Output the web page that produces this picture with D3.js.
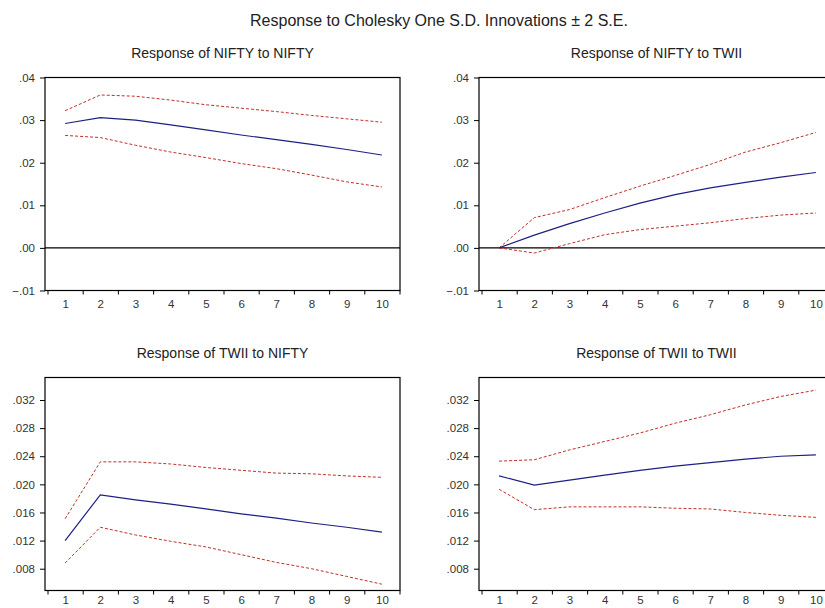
<!DOCTYPE html>
<html>
<head>
<meta charset="utf-8">
<script src="https://cdn.jsdelivr.net/npm/d3@7"></script>
<style>
  html, body { margin: 0; padding: 0; background: #fff; }
  svg { display: block; font-family: "Liberation Sans", Arial, sans-serif; }
  .axis text { fill: #333; font-size: 11.5px; }
  .axis path, .axis line { stroke: #000; }
</style>
</head>
<body>
<div id="chart"></div>
<script>
// Periods after the shock
const periods = [1, 2, 3, 4, 5, 6, 7, 8, 9, 10];

// Response of NIFTY to NIFTY
const niftyToNifty      = [0.0292, 0.0306, 0.0300, 0.0289, 0.0277, 0.0265, 0.0254, 0.0243, 0.0231, 0.0218];
const niftyToNiftyUpper = [0.0322, 0.0359, 0.0356, 0.0347, 0.0336, 0.0328, 0.0320, 0.0311, 0.0303, 0.0295];
const niftyToNiftyLower = [0.0264, 0.0259, 0.0241, 0.0225, 0.0212, 0.0198, 0.0186, 0.0171, 0.0155, 0.0143];

// Response of NIFTY to TWII
const niftyToTwii      = [0.0000, 0.0030, 0.0057, 0.0082, 0.0105, 0.0125, 0.0141, 0.0154, 0.0166, 0.0177];
const niftyToTwiiUpper = [0.0000, 0.0071, 0.0090, 0.0118, 0.0145, 0.0170, 0.0196, 0.0225, 0.0247, 0.0271];
const niftyToTwiiLower = [0.0000, -0.0012, 0.0010, 0.0031, 0.0043, 0.0051, 0.0059, 0.0069, 0.0077, 0.0082];

// Response of TWII to NIFTY
const twiiToNifty      = [0.0120, 0.0185, 0.0178, 0.0172, 0.0165, 0.0158, 0.0152, 0.0145, 0.0139, 0.0132];
const twiiToNiftyUpper = [0.0151, 0.0232, 0.0232, 0.0229, 0.0224, 0.0220, 0.0216, 0.0215, 0.0212, 0.0210];
const twiiToNiftyLower = [0.0088, 0.0139, 0.0128, 0.0119, 0.0111, 0.0100, 0.0089, 0.0080, 0.0069, 0.0058];

// Response of TWII to TWII
const twiiToTwii      = [0.0212, 0.0199, 0.0206, 0.0213, 0.0220, 0.0226, 0.0231, 0.0236, 0.0240, 0.0242];
const twiiToTwiiUpper = [0.0233, 0.0235, 0.0249, 0.0261, 0.0273, 0.0287, 0.0299, 0.0313, 0.0325, 0.0334];
const twiiToTwiiLower = [0.0193, 0.0164, 0.0168, 0.0168, 0.0168, 0.0166, 0.0165, 0.0160, 0.0156, 0.0153];

// Tick values for the two rows of panels
const topTicks = [-0.01, 0.00, 0.01, 0.02, 0.03, 0.04];
const bottomTicks = [0.008, 0.012, 0.016, 0.020, 0.024, 0.028, 0.032];

const title = 'Response to Cholesky One S.D. Innovations \u00b1 2 S.E.';

(function(){
  const width = 825, height = 608;
  const svg = d3.select('#chart').append('svg')
    .attr('width', width)
    .attr('height', height);

  svg.append('rect').attr('width', width).attr('height', height).attr('fill', '#fff');

  // Main title, centred on the full (uncropped) EViews figure
  svg.append('text')
    .attr('x', 439)
    .attr('y', 26)
    .attr('text-anchor', 'middle')
    .attr('fill', '#222')
    .style('font-size', '16px')
    .text(title);

  const panelW = 355, panelH = 213;

  const panels = [
    {name: 'Response of NIFTY to NIFTY', left: 45,  top: 77.5,  domain: [-0.01, 0.04],    ticks: topTicks,    fmt: '.2f', zero: true,  labelPad: 9,
     resp: niftyToNifty, upper: niftyToNiftyUpper, lower: niftyToNiftyLower},
    {name: 'Response of NIFTY to TWII',  left: 479, top: 77.5,  domain: [-0.01, 0.04],    ticks: topTicks,    fmt: '.2f', zero: true,  labelPad: 9,
     resp: niftyToTwii, upper: niftyToTwiiUpper, lower: niftyToTwiiLower},
    {name: 'Response of TWII to NIFTY',  left: 45,  top: 377.5, domain: [0.0049, 0.0352], ticks: bottomTicks, fmt: '.3f', zero: false, labelPad: 5.5,
     resp: twiiToNifty, upper: twiiToNiftyUpper, lower: twiiToNiftyLower},
    {name: 'Response of TWII to TWII',   left: 479, top: 377.5, domain: [0.0049, 0.0352], ticks: bottomTicks, fmt: '.3f', zero: false, labelPad: 5.5,
     resp: twiiToTwii, upper: twiiToTwiiUpper, lower: twiiToTwiiLower}
  ];

  panels.forEach(p => {
    const g = svg.append('g').attr('transform', `translate(${p.left},${p.top})`);

    // Periods sit in the middle of equal bands; tick marks go on the band edges
    const x = d3.scaleLinear().domain([0.5, 10.5]).range([2.5, panelW - 0.5]);
    const y = d3.scaleLinear().domain(p.domain).range([panelH, 0]);

    // Drop the leading zero like EViews does (.04, -.01)
    const f = d3.format(p.fmt);
    const tickFmt = v => f(v).replace('0.', '.');

    g.append('text')
      .attr('x', panelW / 2)
      .attr('y', -20)
      .attr('text-anchor', 'middle')
      .attr('fill', '#222')
      .style('font-size', '14px')
      .text(p.name);

    if (p.zero) {
      g.append('line')
        .attr('x1', 0).attr('x2', panelW)
        .attr('y1', y(0)).attr('y2', y(0))
        .attr('stroke', '#000')
        .attr('stroke-width', 1.2);
    }

    const line = d3.line()
      .x((d, i) => x(periods[i]))
      .y(d => y(d));

    g.append('path')
      .datum(p.upper)
      .attr('d', line)
      .attr('fill', 'none')
      .attr('stroke', '#c0302a')
      .attr('stroke-width', 1)
      .attr('stroke-dasharray', '3,2');

    g.append('path')
      .datum(p.lower)
      .attr('d', line)
      .attr('fill', 'none')
      .attr('stroke', '#c0302a')
      .attr('stroke-width', 1)
      .attr('stroke-dasharray', '3,2');

    g.append('path')
      .datum(p.resp)
      .attr('d', line)
      .attr('fill', 'none')
      .attr('stroke', '#1f1f85')
      .attr('stroke-width', 1.2);

    // Frame round the plot area
    g.append('rect')
      .attr('x', 0).attr('y', 0)
      .attr('width', panelW).attr('height', panelH)
      .attr('fill', 'none')
      .attr('stroke', '#000')
      .attr('stroke-width', 1.2);

    const yAxis = g.append('g')
      .attr('class', 'axis')
      .call(d3.axisLeft(y).tickValues(p.ticks).tickFormat(tickFmt).tickSize(5).tickPadding(5));
    yAxis.select('.domain').remove();

    // Tick marks between the periods
    const edgeAxis = g.append('g')
      .attr('class', 'axis')
      .attr('transform', `translate(0,${panelH})`)
      .call(d3.axisBottom(x).tickValues(d3.range(0.5, 11, 1)).tickFormat('').tickSize(4));
    edgeAxis.select('.domain').remove();

    // Period labels centred in each band
    const labelAxis = g.append('g')
      .attr('class', 'axis')
      .attr('transform', `translate(0,${panelH})`)
      .call(d3.axisBottom(x).tickValues(periods).tickFormat(d3.format('d')).tickSize(0).tickPadding(p.labelPad));
    labelAxis.select('.domain').remove();
  });
})();
</script>
</body>
</html>
